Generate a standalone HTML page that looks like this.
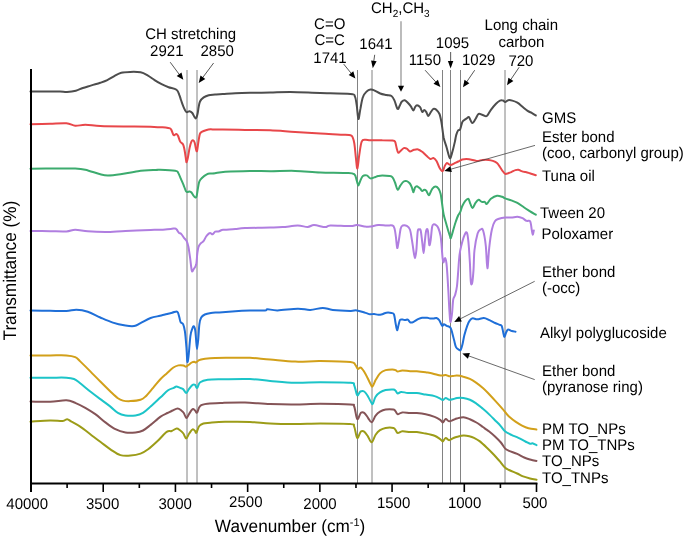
<!DOCTYPE html>
<html><head><meta charset="utf-8"><style>
html,body{margin:0;padding:0;background:#fff;}
body{width:685px;height:538px;overflow:hidden;font-family:"Liberation Sans",sans-serif;}
svg{display:block;will-change:transform;text-rendering:geometricPrecision;}
</style></head><body><svg width="685" height="538" viewBox="0 0 685 538" font-family="'Liberation Sans', sans-serif" fill="#000"><line x1="187.00" y1="70" x2="187.00" y2="483" stroke="#828282" stroke-width="1.0"/><line x1="197.00" y1="70" x2="197.00" y2="483" stroke="#828282" stroke-width="1.0"/><line x1="357.50" y1="70" x2="357.50" y2="483" stroke="#828282" stroke-width="1.0"/><line x1="372.00" y1="70" x2="372.00" y2="483" stroke="#828282" stroke-width="1.0"/><line x1="442.50" y1="70" x2="442.50" y2="483" stroke="#828282" stroke-width="1.0"/><line x1="450.50" y1="70" x2="450.50" y2="483" stroke="#828282" stroke-width="1.0"/><line x1="460.50" y1="70" x2="460.50" y2="483" stroke="#828282" stroke-width="1.0"/><line x1="505.00" y1="70" x2="505.00" y2="483" stroke="#828282" stroke-width="1.0"/><path d="M30.5,91.4 C33.8,91.4 45.1,91.6 50.0,91.6 C54.9,91.6 57.2,91.5 60.0,91.5 C62.8,91.5 64.4,92.0 67.0,91.9 C69.6,91.8 73.2,91.4 75.8,90.7 C78.4,90.0 80.2,88.9 82.8,88.0 C85.4,87.1 88.6,86.3 91.5,85.4 C94.4,84.5 97.7,83.7 100.3,82.8 C102.9,81.9 105.0,81.2 107.3,80.1 C109.6,79.0 112.0,77.3 114.3,76.1 C116.6,74.9 118.7,73.5 121.3,72.8 C123.9,72.1 126.9,72.0 130.1,71.9 C133.3,71.8 137.7,71.7 140.6,72.3 C143.5,72.9 145.3,74.1 147.6,75.4 C149.9,76.7 152.3,78.6 154.6,80.1 C156.9,81.6 159.3,83.0 161.6,84.2 C163.9,85.4 166.1,86.3 168.6,87.2 C171.1,88.1 174.7,88.5 176.5,89.8 C178.3,91.1 178.7,93.5 179.4,95.2 C180.2,96.9 180.3,98.1 181.0,100.0 C181.7,101.9 182.6,104.8 183.5,106.8 C184.4,108.8 185.3,111.3 186.3,112.0 C187.3,112.7 188.6,111.0 189.6,111.2 C190.6,111.4 191.3,111.8 192.3,113.0 C193.3,114.2 194.6,118.2 195.4,118.4 C196.2,118.7 196.9,116.3 197.4,114.5 C197.9,112.7 198.2,109.5 198.6,107.3 C199.0,105.1 199.2,103.2 200.0,101.5 C200.8,99.8 202.2,98.5 203.7,97.4 C205.1,96.4 206.8,95.7 208.7,95.2 C210.6,94.7 212.7,94.8 215.0,94.6 C217.3,94.4 219.3,94.2 222.7,94.0 C226.1,93.8 230.8,93.4 235.3,93.2 C239.9,93.0 244.2,92.9 250.0,92.8 C255.8,92.7 263.4,92.8 270.1,92.6 C276.8,92.4 281.8,91.9 290.2,91.9 C298.6,92.0 310.3,92.6 320.3,92.9 C330.3,93.2 344.6,93.3 350.4,93.9 C356.2,94.5 353.8,94.5 354.9,96.4 C355.9,98.3 356.1,101.4 356.7,105.2 C357.3,109.0 357.8,118.4 358.4,119.0 C359.0,119.6 359.6,112.6 360.4,108.9 C361.1,105.2 361.8,100.0 362.9,97.1 C363.9,94.2 365.4,92.7 366.7,91.4 C368.0,90.2 369.2,89.8 370.5,89.6 C371.8,89.4 372.6,89.6 374.2,90.3 C375.8,91.0 378.2,92.7 380.2,93.5 C382.2,94.3 384.5,94.6 386.4,95.0 C388.3,95.4 390.1,95.0 391.5,96.0 C392.9,97.0 393.5,98.5 394.5,100.7 C395.5,102.9 396.7,108.1 397.6,108.9 C398.5,109.8 399.0,107.0 399.7,105.8 C400.4,104.6 400.8,102.6 401.7,101.7 C402.6,100.8 403.8,100.1 404.8,100.3 C405.8,100.5 406.8,101.7 407.8,102.7 C408.8,103.7 410.0,105.1 410.9,106.4 C411.8,107.7 412.7,110.4 413.4,110.5 C414.1,110.6 414.4,108.1 415.0,107.2 C415.6,106.3 416.1,105.2 417.0,105.2 C417.9,105.2 419.2,106.1 420.1,107.2 C421.0,108.3 421.5,111.5 422.2,111.9 C422.9,112.4 423.5,109.9 424.2,109.9 C424.9,109.9 425.5,110.9 426.2,111.9 C426.9,112.9 427.6,115.8 428.3,116.0 C429.0,116.2 429.5,114.2 430.3,113.0 C431.1,111.8 432.4,109.4 433.4,108.9 C434.4,108.4 435.5,109.1 436.5,109.9 C437.5,110.8 438.6,111.8 439.5,114.0 C440.4,116.2 440.9,119.3 441.6,123.2 C442.3,127.1 442.8,133.4 443.6,137.5 C444.5,141.6 445.7,144.3 446.7,147.7 C447.7,151.1 448.9,157.0 449.8,158.0 C450.7,159.0 451.0,156.6 451.8,153.9 C452.6,151.2 454.2,144.7 454.9,141.6 C455.6,138.5 455.6,137.3 456.1,135.4 C456.7,133.5 457.5,131.3 458.2,130.3 C458.9,129.3 459.5,130.6 460.2,129.2 C460.9,127.8 461.6,123.6 462.3,122.1 C463.0,120.6 463.6,120.6 464.3,120.0 C465.0,119.4 465.6,119.1 466.3,118.6 C467.1,118.1 468.1,116.8 468.8,117.0 C469.5,117.2 469.8,119.0 470.4,120.0 C471.0,121.0 471.6,123.3 472.5,123.1 C473.4,122.9 474.5,120.5 475.5,119.0 C476.5,117.5 477.4,114.6 478.6,113.9 C479.8,113.2 481.3,114.6 482.7,114.9 C484.1,115.2 485.4,116.8 486.8,116.0 C488.2,115.2 489.4,111.8 490.9,109.8 C492.4,107.8 494.5,105.2 496.0,103.7 C497.5,102.2 498.8,101.1 500.0,100.6 C501.2,100.1 502.2,100.3 503.1,100.6 C504.0,100.8 504.4,102.2 505.2,102.1 C506.0,102.0 507.0,100.5 508.2,100.2 C509.4,100.0 510.8,100.2 512.3,100.6 C513.8,101.0 515.7,101.7 517.4,102.7 C519.1,103.7 520.8,105.4 522.5,106.8 C524.2,108.2 526.1,109.9 527.6,110.9 C529.1,111.9 530.3,112.2 531.7,112.9 C533.1,113.7 535.1,115.0 535.8,115.4" fill="none" stroke="#4d4d4d" stroke-width="2" stroke-linejoin="round" stroke-linecap="round"/><path d="M30.5,124.3 C33.8,124.2 44.0,124.0 50.0,123.8 C56.0,123.6 62.2,123.0 66.4,123.3 C70.6,123.6 72.1,125.5 75.2,125.8 C78.3,126.0 81.1,124.8 85.3,124.8 C89.5,124.8 93.6,125.7 100.3,126.0 C107.0,126.3 117.1,126.4 125.5,126.5 C133.9,126.6 144.8,126.7 150.6,126.8 C156.3,126.9 157.5,127.2 160.0,127.3 C162.5,127.4 163.9,127.3 165.6,127.5 C167.3,127.7 169.0,128.0 170.0,128.4 C171.0,128.8 170.9,129.1 171.5,130.2 C172.1,131.3 172.8,134.1 173.4,134.9 C174.0,135.7 174.3,135.1 174.8,134.9 C175.3,134.7 175.7,133.8 176.2,133.9 C176.7,134.1 177.3,134.5 178.0,135.8 C178.7,137.1 179.5,140.4 180.3,141.8 C181.2,143.2 182.4,143.2 183.1,144.5 C183.8,145.8 184.0,147.3 184.5,149.7 C185.0,152.1 185.6,156.9 185.9,159.0 C186.2,161.1 186.3,162.5 186.6,162.3 C186.9,162.2 187.3,160.5 187.8,158.1 C188.3,155.7 189.0,150.7 189.6,147.9 C190.2,145.1 190.9,142.7 191.5,141.4 C192.1,140.2 192.8,140.2 193.3,140.4 C193.8,140.6 194.2,141.2 194.7,142.8 C195.2,144.4 195.7,148.4 196.1,149.7 C196.5,151.0 196.7,152.1 197.1,150.7 C197.5,149.3 198.0,144.2 198.5,141.4 C199.0,138.6 199.3,135.5 199.9,133.9 C200.5,132.3 201.2,132.2 202.2,131.6 C203.2,131.0 204.5,130.6 205.9,130.2 C207.3,129.8 209.0,129.4 210.5,129.3 C212.0,129.2 213.0,129.6 215.0,129.6 C217.0,129.6 217.7,129.3 222.7,129.4 C227.7,129.5 237.1,129.8 245.0,130.0 C252.9,130.2 261.7,130.0 270.1,130.3 C278.5,130.6 286.8,131.5 295.2,132.0 C303.6,132.5 311.9,133.0 320.3,133.5 C328.7,134.0 340.2,134.4 345.4,134.8 C350.6,135.2 350.1,134.5 351.6,135.8 C353.1,137.1 353.5,139.1 354.2,142.8 C354.9,146.5 355.4,153.6 355.9,157.9 C356.4,162.2 356.8,168.8 357.4,168.4 C357.9,168.0 358.5,159.9 359.2,155.4 C359.9,150.9 360.6,144.2 361.7,141.6 C362.8,139.0 364.0,140.0 365.5,139.8 C367.0,139.6 367.7,140.2 370.5,140.3 C373.3,140.4 378.6,140.1 382.3,140.2 C386.0,140.2 390.4,140.4 392.5,140.6 C394.6,140.8 394.3,140.4 395.0,141.6 C395.7,142.8 396.1,145.8 396.6,147.7 C397.1,149.6 397.5,152.3 398.2,152.8 C398.9,153.3 399.8,151.6 400.7,150.8 C401.6,150.0 402.7,148.4 403.7,148.1 C404.7,147.8 405.8,148.1 406.8,148.7 C407.8,149.2 408.7,151.2 409.9,151.4 C411.1,151.6 412.6,150.1 414.0,149.8 C415.4,149.5 416.7,149.1 418.1,149.4 C419.5,149.7 420.9,150.8 422.2,151.8 C423.5,152.8 424.8,154.3 426.2,155.5 C427.6,156.7 429.1,158.6 430.3,159.0 C431.5,159.4 432.4,157.7 433.4,158.0 C434.4,158.3 435.5,159.4 436.5,161.0 C437.5,162.6 438.5,166.1 439.5,167.8 C440.5,169.5 441.7,171.5 442.6,171.2 C443.5,170.9 444.0,167.4 444.7,166.1 C445.4,164.8 446.0,163.4 446.7,163.1 C447.4,162.8 448.0,163.8 448.7,164.1 C449.4,164.4 449.9,165.2 450.8,165.1 C451.7,165.0 452.7,164.3 453.9,163.7 C455.1,163.1 456.8,162.2 458.2,161.5 C459.6,160.8 460.9,159.9 462.3,159.5 C463.7,159.1 465.0,158.9 466.3,158.9 C467.6,158.9 468.7,159.2 470.4,159.5 C472.1,159.8 474.6,160.8 476.6,160.9 C478.7,161.0 480.7,160.1 482.7,159.9 C484.7,159.7 487.1,159.7 488.8,159.9 C490.5,160.1 491.5,160.4 492.9,160.9 C494.3,161.4 495.8,162.0 497.0,163.0 C498.2,164.0 499.1,165.7 500.0,167.0 C500.9,168.3 501.8,170.0 502.7,171.1 C503.6,172.2 504.3,173.5 505.2,173.8 C506.1,174.2 507.2,173.5 508.2,173.2 C509.2,172.9 510.1,172.6 511.3,172.1 C512.5,171.6 514.2,170.5 515.4,170.1 C516.6,169.7 517.4,169.5 518.4,169.7 C519.4,169.9 520.3,170.7 521.5,171.1 C522.7,171.5 524.2,171.8 525.6,172.1 C527.0,172.4 528.0,172.7 529.7,173.2 C531.4,173.7 534.8,174.9 535.8,175.2" fill="none" stroke="#e8474a" stroke-width="2" stroke-linejoin="round" stroke-linecap="round"/><path d="M30.5,168.7 C33.8,168.7 42.5,168.6 50.0,168.6 C57.5,168.6 69.3,168.3 75.2,168.5 C81.1,168.7 81.1,168.7 85.3,169.7 C89.5,170.7 96.5,173.3 100.3,174.3 C104.1,175.3 104.6,175.5 107.9,175.5 C111.2,175.5 115.4,175.0 120.4,174.3 C125.4,173.6 132.1,171.9 138.0,171.2 C143.9,170.5 151.9,170.2 155.6,170.0 C159.3,169.8 156.7,169.6 160.0,169.7 C163.3,169.8 172.2,170.2 175.2,170.7 C178.2,171.2 177.1,171.2 178.0,172.5 C178.9,173.8 179.9,176.5 180.8,178.6 C181.7,180.7 182.8,183.0 183.6,185.1 C184.4,187.2 185.3,189.9 185.9,191.1 C186.5,192.3 186.7,192.0 187.3,192.1 C187.9,192.2 188.9,191.3 189.6,191.4 C190.3,191.5 190.9,191.8 191.5,192.5 C192.1,193.2 192.7,194.5 193.3,195.3 C193.9,196.1 194.6,197.2 195.2,197.4 C195.8,197.6 196.1,197.8 196.6,196.2 C197.1,194.6 197.5,190.4 198.0,187.9 C198.5,185.4 198.7,183.1 199.4,181.4 C200.1,179.7 201.0,178.9 202.2,177.7 C203.4,176.5 205.4,175.1 206.8,174.4 C208.2,173.7 209.1,173.7 210.5,173.5 C211.9,173.3 212.6,173.5 215.0,173.2 C217.4,172.9 219.4,172.2 225.2,171.8 C231.0,171.4 242.5,171.0 250.0,170.9 C257.5,170.8 262.6,171.2 270.1,171.2 C277.6,171.2 286.8,170.7 295.2,170.9 C303.6,171.1 311.9,172.1 320.3,172.4 C328.7,172.7 339.8,172.6 345.4,172.9 C351.0,173.2 352.3,172.9 354.2,174.2 C356.1,175.5 356.0,178.6 356.7,180.5 C357.4,182.4 357.8,185.5 358.4,185.5 C359.0,185.5 359.6,182.1 360.4,180.5 C361.1,178.9 361.8,176.8 362.9,175.9 C363.9,175.1 365.4,175.0 366.7,175.4 C368.0,175.8 369.2,178.1 370.5,178.4 C371.8,178.7 372.9,177.8 374.2,177.4 C375.5,177.0 376.8,176.3 378.2,176.0 C379.6,175.7 380.4,175.5 382.3,175.5 C384.2,175.5 387.7,175.7 389.4,176.0 C391.1,176.3 391.6,176.3 392.5,177.4 C393.4,178.5 394.1,180.4 395.0,182.5 C395.9,184.6 396.7,189.2 397.6,189.7 C398.5,190.2 399.3,187.0 400.3,185.6 C401.3,184.2 402.6,182.2 403.7,181.5 C404.8,180.8 405.8,180.8 406.8,181.1 C407.8,181.4 409.0,182.4 409.9,183.5 C410.8,184.6 411.3,186.1 411.9,187.6 C412.5,189.1 412.9,192.3 413.4,192.3 C413.9,192.3 414.4,188.6 415.0,187.6 C415.6,186.6 416.1,186.0 417.0,186.2 C417.9,186.4 419.2,187.8 420.1,188.6 C421.0,189.4 421.5,190.9 422.2,191.1 C422.9,191.3 423.5,189.8 424.2,189.7 C424.9,189.6 425.4,189.8 426.2,190.7 C426.9,191.6 428.0,194.9 428.7,195.2 C429.4,195.5 429.7,193.8 430.3,192.7 C430.9,191.6 431.5,189.6 432.4,188.6 C433.3,187.6 434.5,186.6 435.5,186.6 C436.5,186.6 437.6,187.4 438.5,188.6 C439.4,189.8 440.0,191.3 440.6,193.7 C441.2,196.1 441.5,199.6 442.0,203.0 C442.5,206.4 442.8,210.4 443.6,214.2 C444.4,217.9 445.7,221.9 446.7,225.5 C447.7,229.1 449.1,233.6 449.8,235.7 C450.5,237.8 450.3,238.8 450.8,238.1 C451.3,237.4 452.0,234.2 452.8,231.6 C453.6,229.0 454.6,225.2 455.5,222.5 C456.4,219.8 457.4,216.9 458.2,215.2 C459.0,213.5 459.5,213.6 460.2,212.1 C460.9,210.6 461.4,207.9 462.3,206.0 C463.2,204.1 464.3,202.1 465.3,200.9 C466.3,199.7 467.5,198.3 468.4,198.8 C469.2,199.3 469.7,202.4 470.4,203.9 C471.1,205.4 471.6,208.2 472.5,208.0 C473.4,207.8 474.5,204.3 475.5,202.9 C476.5,201.5 477.6,200.0 478.6,199.8 C479.6,199.6 480.7,201.6 481.7,201.9 C482.7,202.2 483.8,201.6 484.7,201.9 C485.6,202.2 485.8,204.4 486.8,203.9 C487.8,203.4 489.2,200.2 490.9,198.8 C492.6,197.5 495.1,196.1 497.0,195.8 C498.9,195.5 500.7,196.4 502.1,196.8 C503.5,197.2 503.7,197.8 505.2,198.4 C506.7,199.0 509.3,199.7 511.3,200.4 C513.3,201.2 515.4,201.8 517.4,202.9 C519.4,204.0 521.5,205.6 523.5,207.0 C525.5,208.4 527.7,209.8 529.7,211.1 C531.8,212.4 534.8,214.1 535.8,214.7" fill="none" stroke="#3cab6e" stroke-width="2" stroke-linejoin="round" stroke-linecap="round"/><path d="M30.5,230.9 C33.8,230.9 44.1,231.1 50.1,231.2 C56.1,231.3 62.2,231.7 66.4,231.4 C70.6,231.2 71.6,229.7 75.2,229.7 C78.8,229.7 82.8,230.8 87.8,231.2 C92.8,231.6 99.1,231.9 105.4,231.9 C111.7,231.9 118.0,231.2 125.5,230.9 C133.0,230.6 144.8,230.1 150.6,229.9 C156.3,229.7 156.7,230.0 160.0,229.8 C163.3,229.6 168.2,229.1 170.7,228.9 C173.2,228.7 174.0,228.3 175.0,228.4 C176.0,228.5 176.0,228.8 176.7,229.5 C177.3,230.2 178.2,232.1 178.9,232.8 C179.7,233.5 180.3,233.1 181.2,233.9 C182.0,234.7 183.1,236.6 184.0,237.8 C184.9,239.0 186.0,239.7 186.7,241.2 C187.4,242.7 187.8,244.0 188.4,246.8 C189.0,249.6 189.5,253.9 190.1,257.9 C190.7,261.9 191.2,268.8 191.8,270.7 C192.4,272.6 192.7,270.6 193.4,269.6 C194.1,268.6 195.5,267.3 196.2,264.6 C196.8,261.9 196.9,256.5 197.3,253.5 C197.7,250.5 197.9,248.5 198.5,246.8 C199.1,245.1 199.9,244.3 200.7,243.4 C201.5,242.5 202.6,242.4 203.5,241.2 C204.4,240.0 205.4,237.5 206.3,236.2 C207.2,234.9 208.4,233.9 209.1,233.4 C209.8,232.9 210.1,233.0 210.7,233.2 C211.3,233.3 211.9,234.6 212.7,234.3 C213.4,234.1 214.2,232.2 215.2,231.7 C216.2,231.2 217.4,231.8 218.5,231.5 C219.6,231.2 220.8,230.3 221.9,230.0 C223.0,229.7 222.8,230.0 225.0,229.8 C227.2,229.6 232.0,229.3 235.3,229.0 C238.6,228.7 239.2,228.3 245.0,228.1 C250.8,227.9 263.8,227.8 270.1,227.6 C276.4,227.4 278.0,227.4 282.6,227.1 C287.2,226.8 293.5,225.6 297.7,225.6 C301.9,225.6 305.0,227.0 307.7,226.9 C310.4,226.8 311.1,225.1 314.0,225.1 C316.9,225.1 322.6,227.0 325.3,227.1 C328.0,227.2 326.1,225.6 330.3,225.4 C334.5,225.2 346.0,226.2 350.4,226.1 C354.8,226.0 354.2,225.0 356.7,225.1 C359.2,225.2 363.2,226.3 365.5,226.6 C367.8,226.8 368.4,226.9 370.5,226.6 C372.6,226.3 375.6,225.2 378.2,225.0 C380.8,224.8 384.0,225.4 386.4,225.5 C388.8,225.6 391.1,225.0 392.5,225.5 C393.9,226.0 393.9,226.5 394.5,228.5 C395.1,230.5 395.6,234.4 396.0,237.7 C396.4,240.9 396.8,247.3 397.2,248.0 C397.6,248.7 398.0,245.1 398.6,241.8 C399.2,238.6 400.0,231.2 400.7,228.5 C401.4,225.8 401.7,225.9 402.7,225.5 C403.7,225.1 405.6,225.2 406.8,225.9 C408.0,226.6 409.0,227.2 409.9,229.5 C410.8,231.8 411.3,236.4 411.9,239.8 C412.5,243.2 412.9,246.9 413.4,250.0 C413.9,253.1 414.5,258.2 415.0,258.2 C415.5,258.2 415.9,254.4 416.4,250.0 C416.8,245.6 417.2,235.0 417.7,231.6 C418.1,228.2 418.6,229.7 419.1,229.5 C419.6,229.3 420.2,228.5 420.7,230.6 C421.2,232.7 421.7,238.1 422.2,241.8 C422.7,245.6 423.2,253.1 423.6,253.1 C424.0,253.1 424.4,245.6 424.8,241.8 C425.2,238.1 425.7,232.5 426.2,230.6 C426.7,228.7 427.4,228.2 427.9,230.6 C428.4,233.0 428.8,243.4 429.3,244.9 C429.8,246.4 430.2,242.7 430.7,239.8 C431.1,236.9 431.6,230.1 432.0,227.5 C432.4,224.9 432.6,224.7 433.4,224.4 C434.1,224.1 435.6,224.8 436.5,225.5 C437.4,226.2 437.8,226.8 438.5,228.5 C439.2,230.2 440.1,233.1 440.6,236.0 C441.1,238.9 441.3,242.2 441.6,245.9 C441.9,249.6 442.3,255.4 442.6,258.2 C442.9,261.0 443.1,262.5 443.5,262.5 C443.9,262.5 444.5,257.9 445.0,258.0 C445.5,258.1 446.0,260.0 446.4,262.8 C446.8,265.6 447.1,270.4 447.4,274.9 C447.7,279.4 447.9,283.8 448.3,290.0 C448.7,296.2 449.1,306.7 449.5,312.0 C449.9,317.3 450.0,321.6 450.4,322.0 C450.8,322.4 451.4,318.3 451.9,314.6 C452.4,310.9 452.7,303.0 453.2,299.7 C453.7,296.4 454.5,297.3 455.1,295.0 C455.7,292.7 456.5,290.2 457.0,286.0 C457.5,281.8 457.9,275.2 458.3,270.0 C458.7,264.8 459.0,259.0 459.5,255.0 C460.0,251.0 460.4,249.2 461.2,246.0 C462.0,242.8 463.4,237.8 464.3,235.6 C465.2,233.3 466.1,231.5 466.8,232.5 C467.5,233.5 467.9,236.6 468.4,241.7 C468.9,246.8 469.5,256.0 469.9,262.8 C470.3,269.6 470.5,279.3 470.9,282.5 C471.3,285.7 471.9,284.3 472.3,282.2 C472.7,280.1 473.1,275.5 473.5,270.1 C473.9,264.7 473.8,256.1 474.5,250.0 C475.2,243.9 476.6,236.9 477.6,233.5 C478.6,230.1 479.7,230.0 480.6,229.5 C481.5,229.0 482.2,227.8 483.1,230.5 C484.0,233.2 485.1,239.5 485.8,245.8 C486.5,252.1 486.8,267.9 487.4,268.3 C488.0,268.7 488.4,254.5 489.2,248.0 C489.9,241.5 490.9,233.9 491.9,229.5 C492.8,225.1 493.7,223.1 494.9,221.3 C496.1,219.5 497.3,219.4 499.0,218.8 C500.7,218.2 503.1,217.8 505.2,217.6 C507.2,217.4 509.3,217.7 511.3,217.6 C513.3,217.5 515.5,216.7 517.4,216.8 C519.3,216.9 521.0,217.5 522.5,218.2 C524.0,218.9 525.3,220.4 526.6,220.9 C527.9,221.4 529.2,219.9 530.1,221.3 C531.0,222.7 531.3,227.3 531.7,229.5 C532.1,231.7 532.4,234.4 532.7,234.6 C533.1,234.8 533.6,231.2 533.8,230.5" fill="none" stroke="#b07ee0" stroke-width="2" stroke-linejoin="round" stroke-linecap="round"/><path d="M30.5,310.5 C33.8,310.6 44.1,310.7 50.1,310.8 C56.1,310.9 62.0,311.2 66.4,311.0 C70.8,310.8 72.9,309.7 76.5,309.8 C80.1,309.9 83.8,310.5 87.8,311.8 C91.8,313.1 96.1,315.7 100.3,317.5 C104.5,319.3 108.7,321.2 112.9,322.6 C117.1,324.0 122.0,325.0 125.5,325.6 C129.1,326.2 131.7,326.5 134.2,326.1 C136.7,325.7 137.8,324.5 140.5,323.1 C143.2,321.8 147.3,319.2 150.6,318.0 C153.8,316.8 157.6,316.4 160.0,315.8 C162.4,315.2 163.0,315.0 165.0,314.5 C167.0,314.0 170.3,313.2 172.2,312.7 C174.1,312.2 175.5,311.5 176.5,311.5 C177.5,311.5 177.5,311.6 178.0,312.7 C178.5,313.8 179.1,316.5 179.5,318.1 C179.9,319.7 180.1,321.3 180.7,322.3 C181.3,323.3 182.4,322.6 183.1,324.1 C183.8,325.6 184.3,327.4 184.9,331.4 C185.5,335.4 186.1,343.3 186.5,348.3 C186.9,353.3 187.0,360.2 187.3,361.6 C187.6,363.0 188.0,360.9 188.5,356.7 C189.0,352.5 189.8,340.8 190.4,336.2 C191.0,331.6 191.6,330.6 192.2,329.0 C192.8,327.4 193.2,326.1 193.7,326.3 C194.2,326.5 194.8,327.9 195.2,330.2 C195.6,332.4 195.8,336.7 196.1,339.8 C196.4,342.9 196.7,348.9 197.0,348.9 C197.3,348.9 197.8,343.9 198.2,339.8 C198.6,335.7 198.9,327.8 199.4,324.1 C199.9,320.4 200.3,319.1 201.2,317.5 C202.1,315.9 203.2,315.2 204.8,314.5 C206.4,313.8 208.5,313.4 210.9,313.0 C213.3,312.6 215.2,312.7 219.3,312.4 C223.4,312.1 230.2,311.6 235.3,311.3 C240.4,311.0 245.0,310.8 250.0,310.6 C255.0,310.5 262.2,310.6 265.1,310.4 C268.0,310.2 265.5,309.2 267.6,309.2 C269.7,309.2 272.6,310.5 277.6,310.4 C282.6,310.3 292.3,308.8 297.7,308.7 C303.1,308.6 306.0,310.0 310.2,309.9 C314.4,309.8 319.0,307.9 322.8,307.9 C326.6,307.9 328.2,309.4 332.8,309.9 C337.4,310.4 346.4,310.8 350.4,310.9 C354.4,311.0 354.2,310.1 356.7,310.4 C359.2,310.7 363.3,312.3 365.5,312.9 C367.7,313.5 368.6,314.0 370.0,314.2 C371.4,314.4 372.7,313.9 374.1,314.0 C375.5,314.1 376.8,314.8 378.2,314.8 C379.6,314.8 380.9,314.6 382.3,314.2 C383.7,313.8 384.9,312.9 386.4,312.7 C387.9,312.5 390.2,312.7 391.5,313.0 C392.8,313.3 393.3,312.9 394.0,314.5 C394.7,316.1 395.0,320.1 395.5,322.7 C396.0,325.3 396.6,329.9 397.1,330.2 C397.6,330.5 398.1,326.4 398.6,324.7 C399.1,323.0 399.4,320.6 400.1,319.8 C400.8,319.0 401.8,319.6 402.7,319.6 C403.6,319.7 404.4,320.1 405.3,320.1 C406.2,320.1 407.0,319.2 407.8,319.6 C408.6,320.0 409.4,322.1 410.4,322.5 C411.4,322.9 412.6,322.3 413.9,321.7 C415.2,321.1 416.6,319.8 418.0,319.1 C419.4,318.5 420.6,318.0 422.1,317.8 C423.6,317.6 425.9,317.7 427.2,317.8 C428.5,317.9 429.0,318.3 430.0,318.4 C431.0,318.5 432.3,318.7 433.4,318.6 C434.5,318.5 435.5,317.7 436.5,318.0 C437.5,318.3 438.4,318.9 439.3,320.2 C440.2,321.5 441.3,325.1 442.1,325.8 C442.9,326.5 443.1,324.3 443.9,324.3 C444.7,324.3 445.6,325.2 446.7,325.8 C447.8,326.4 449.5,326.4 450.4,327.6 C451.3,328.8 451.7,331.0 452.3,333.2 C452.9,335.4 453.6,338.3 454.2,340.6 C454.8,342.9 455.2,345.6 456.0,347.1 C456.8,348.6 458.0,349.1 458.8,349.6 C459.6,350.1 460.1,350.8 460.7,349.9 C461.3,349.0 461.9,346.8 462.5,344.3 C463.1,341.8 463.6,338.2 464.4,335.1 C465.2,332.0 466.3,328.3 467.2,325.8 C468.1,323.3 469.1,321.4 470.0,320.2 C470.9,318.9 471.6,318.4 472.8,318.3 C474.0,318.2 475.5,319.4 477.4,319.3 C479.2,319.2 481.9,317.9 483.9,318.0 C485.9,318.1 487.6,319.4 489.5,320.2 C491.4,321.0 493.4,322.2 495.1,323.0 C496.8,323.8 498.6,324.3 499.7,324.8 C500.8,325.3 501.1,324.7 501.6,325.8 C502.2,326.9 502.6,329.5 503.0,331.3 C503.4,333.1 503.8,336.7 504.3,336.9 C504.8,337.1 505.6,333.5 506.2,332.3 C506.8,331.1 507.2,329.7 508.1,329.5 C509.0,329.3 510.6,330.6 511.8,331.0 C513.0,331.4 514.9,331.6 515.5,331.7" fill="none" stroke="#1f6fd8" stroke-width="2" stroke-linejoin="round" stroke-linecap="round"/><path d="M30.5,355.6 C33.8,355.6 44.1,355.4 50.1,355.4 C56.1,355.4 62.2,355.1 66.4,355.4 C70.6,355.7 72.9,356.1 75.2,357.1 C77.5,358.1 77.7,359.0 80.2,361.4 C82.7,363.8 87.0,368.0 90.3,371.4 C93.6,374.8 96.9,378.1 100.3,381.5 C103.7,384.9 107.5,388.7 110.4,391.5 C113.3,394.3 115.8,396.8 117.9,398.3 C120.0,399.8 120.8,400.1 122.9,400.6 C125.0,401.1 127.6,401.2 130.5,401.1 C133.4,401.0 138.0,400.6 140.5,399.8 C143.0,399.0 143.4,398.5 145.5,396.5 C147.6,394.5 150.6,390.7 153.1,387.8 C155.6,384.9 158.3,381.4 160.6,379.0 C162.9,376.6 164.6,375.3 166.7,373.4 C168.8,371.5 171.4,368.8 173.4,367.5 C175.4,366.2 176.7,365.8 178.4,365.4 C180.1,365.0 182.2,365.2 183.4,365.4 C184.7,365.6 185.1,366.8 185.9,366.7 C186.7,366.6 187.4,365.7 188.4,365.0 C189.4,364.3 190.7,363.1 191.7,362.5 C192.7,361.9 193.6,361.7 194.3,361.7 C195.0,361.7 195.4,362.6 195.9,362.5 C196.4,362.4 196.9,361.8 197.6,361.3 C198.3,360.8 198.8,360.1 200.1,359.7 C201.3,359.3 202.6,359.0 205.1,358.7 C207.6,358.4 210.1,358.1 215.1,358.0 C220.1,357.9 229.5,357.8 235.3,357.8 C241.1,357.8 244.2,357.5 250.0,357.8 C255.8,358.1 262.6,359.0 270.1,359.6 C277.6,360.2 286.8,361.4 295.2,361.6 C303.6,361.9 311.1,361.0 320.3,361.1 C329.5,361.2 344.5,361.4 350.4,362.1 C356.2,362.8 354.1,364.0 355.4,365.1 C356.6,366.2 357.0,368.5 357.9,368.9 C358.8,369.3 359.6,366.8 360.9,367.6 C362.2,368.4 363.9,371.2 365.5,373.9 C367.1,376.6 369.3,381.9 370.5,384.0 C371.7,386.1 371.6,387.1 372.5,386.5 C373.4,385.9 374.4,382.3 375.6,380.1 C376.9,377.9 378.3,375.1 380.0,373.4 C381.7,371.7 383.6,370.8 385.6,370.1 C387.7,369.4 390.6,369.4 392.3,369.4 C394.0,369.4 394.7,369.7 395.6,370.1 C396.5,370.5 396.7,371.5 397.8,371.6 C398.9,371.7 400.2,370.6 402.3,370.5 C404.4,370.4 407.7,371.1 410.1,371.2 C412.5,371.3 414.2,371.0 416.8,371.2 C419.4,371.4 423.1,371.9 425.7,372.3 C428.3,372.7 430.2,372.9 432.4,373.4 C434.6,373.9 437.4,374.8 439.1,375.2 C440.8,375.6 441.3,375.6 442.4,375.6 C443.5,375.6 444.6,374.9 445.7,375.0 C446.8,375.1 448.0,376.1 449.1,376.3 C450.2,376.5 451.1,376.2 452.4,376.1 C453.7,376.0 455.1,375.5 456.9,375.6 C458.7,375.7 461.2,376.1 463.4,376.7 C465.6,377.2 467.7,377.9 469.9,378.9 C472.1,379.9 474.2,381.3 476.4,382.8 C478.6,384.3 480.7,386.1 482.9,388.0 C485.1,389.9 487.2,392.2 489.4,394.5 C491.6,396.8 493.8,399.2 496.0,401.6 C498.2,404.0 500.9,407.0 502.5,408.8 C504.1,410.6 504.4,411.2 505.5,412.5 C506.6,413.8 507.3,415.0 509.0,416.5 C510.7,418.0 513.3,420.2 515.5,421.7 C517.7,423.2 519.8,424.5 522.0,425.6 C524.2,426.7 526.1,427.6 528.5,428.2 C530.9,428.8 535.1,429.3 536.4,429.5" fill="none" stroke="#d2a01a" stroke-width="2" stroke-linejoin="round" stroke-linecap="round"/><path d="M30.5,377.7 C33.8,377.7 44.1,377.7 50.1,377.7 C56.1,377.7 62.4,377.5 66.4,377.7 C70.4,377.9 71.7,378.1 74.0,379.0 C76.3,379.9 77.5,381.1 80.2,383.2 C82.9,385.3 87.0,388.9 90.3,391.5 C93.6,394.1 96.9,396.6 100.3,399.1 C103.7,401.6 107.5,404.3 110.4,406.6 C113.3,408.9 115.4,411.4 117.9,412.9 C120.4,414.4 122.6,415.0 125.5,415.4 C128.4,415.8 132.6,415.8 135.5,415.4 C138.4,415.0 140.5,414.4 143.0,412.9 C145.5,411.4 147.7,409.2 150.6,406.6 C153.5,404.0 157.7,400.0 160.6,397.3 C163.5,394.6 165.9,391.9 168.1,390.3 C170.3,388.7 172.4,388.5 173.8,387.9 C175.2,387.3 175.2,386.6 176.3,386.6 C177.4,386.6 179.0,387.5 180.1,387.9 C181.2,388.3 182.1,388.3 183.1,389.1 C184.1,389.9 185.3,392.9 186.3,392.9 C187.3,392.9 187.9,390.4 188.9,389.1 C189.9,387.8 191.6,385.6 192.6,384.9 C193.6,384.2 194.3,384.4 195.1,384.9 C195.8,385.4 196.2,388.3 197.1,387.9 C197.9,387.5 198.4,383.6 200.2,382.3 C202.0,381.0 203.9,380.3 207.7,379.8 C211.4,379.3 215.6,379.4 222.7,379.3 C229.8,379.2 242.1,378.8 250.0,379.1 C257.9,379.4 262.6,380.3 270.1,380.9 C277.6,381.5 286.8,382.5 295.2,382.7 C303.6,382.9 311.1,382.2 320.3,382.2 C329.5,382.2 344.8,382.2 350.4,382.7 C356.0,383.2 353.1,383.1 354.2,385.2 C355.3,387.3 356.2,394.1 357.2,395.2 C358.2,396.2 359.2,392.1 360.4,391.5 C361.6,390.9 362.9,390.7 364.2,391.5 C365.5,392.3 366.8,394.5 368.0,396.5 C369.2,398.5 370.9,402.1 371.7,403.3 C372.5,404.5 372.4,404.6 373.0,403.5 C373.6,402.4 374.4,398.7 375.6,396.8 C376.8,394.9 378.3,393.5 380.0,392.4 C381.7,391.3 383.4,390.6 385.6,390.1 C387.8,389.6 391.7,389.4 393.4,389.5 C395.1,389.6 394.9,390.1 395.6,390.8 C396.3,391.5 396.9,393.3 397.8,393.5 C398.7,393.7 399.5,392.0 401.2,391.9 C402.9,391.8 405.3,392.8 407.9,393.0 C410.5,393.2 413.8,392.7 416.8,393.0 C419.8,393.3 422.7,394.1 425.7,394.6 C428.7,395.1 432.2,395.4 434.6,396.1 C437.0,396.8 438.8,397.9 440.2,398.6 C441.6,399.3 441.9,400.2 442.8,400.1 C443.7,400.0 444.6,398.0 445.7,397.9 C446.8,397.8 447.8,399.5 449.1,399.7 C450.4,399.9 452.2,399.3 453.5,399.0 C454.8,398.7 455.2,398.2 456.9,398.0 C458.5,397.8 461.2,397.7 463.4,398.0 C465.6,398.3 467.7,398.8 469.9,399.7 C472.1,400.6 474.2,402.1 476.4,403.6 C478.6,405.1 480.7,407.0 482.9,408.8 C485.1,410.6 487.2,412.5 489.4,414.6 C491.6,416.7 494.1,419.3 496.0,421.2 C497.9,423.1 499.0,424.1 500.5,425.8 C502.0,427.5 503.2,429.7 505.0,431.2 C506.8,432.7 509.2,433.8 511.4,434.9 C513.6,436.0 516.1,436.7 518.4,437.8 C520.7,438.9 523.4,440.5 525.4,441.5 C527.4,442.5 528.9,443.5 530.1,443.8 C531.3,444.1 531.3,443.1 532.4,443.3 C533.5,443.5 535.8,444.8 536.5,445.1" fill="none" stroke="#1cc4c8" stroke-width="2" stroke-linejoin="round" stroke-linecap="round"/><path d="M30.5,401.6 C33.8,401.6 44.1,402.0 50.1,401.8 C56.1,401.6 62.2,400.1 66.4,400.3 C70.6,400.5 72.1,401.6 75.2,402.8 C78.3,404.1 82.0,405.9 85.3,407.8 C88.6,409.7 91.9,411.7 95.3,414.1 C98.7,416.5 102.1,419.9 105.4,422.4 C108.8,424.9 112.1,427.5 115.4,429.2 C118.8,430.9 122.2,431.9 125.5,432.5 C128.8,433.1 132.6,432.8 135.5,432.5 C138.4,432.2 140.5,431.8 143.0,430.5 C145.5,429.2 147.7,427.2 150.6,424.9 C153.5,422.6 157.8,418.6 160.6,416.6 C163.4,414.6 165.5,414.0 167.5,413.0 C169.5,412.0 170.8,411.3 172.5,410.5 C174.2,409.7 176.1,408.4 177.6,408.4 C179.1,408.4 180.3,409.7 181.3,410.5 C182.3,411.3 183.0,411.8 183.8,413.0 C184.6,414.2 185.5,417.8 186.3,418.0 C187.2,418.2 187.9,415.7 188.9,414.2 C189.9,412.7 191.6,409.8 192.6,409.2 C193.6,408.6 194.3,409.9 195.1,410.5 C195.8,411.1 196.2,413.3 197.1,412.5 C197.9,411.7 198.4,407.4 200.2,405.9 C202.0,404.4 203.9,404.2 207.7,403.7 C211.4,403.2 216.5,403.1 222.7,402.9 C228.9,402.7 237.1,402.4 245.0,402.6 C252.9,402.8 261.7,403.8 270.1,404.1 C278.5,404.4 286.8,404.6 295.2,404.5 C303.6,404.4 311.1,403.8 320.3,403.8 C329.5,403.8 344.8,404.1 350.4,404.5 C356.0,404.9 353.1,404.1 354.2,406.5 C355.3,408.9 356.1,418.1 357.2,419.1 C358.3,420.2 359.7,413.9 360.9,412.8 C362.1,411.8 363.0,412.0 364.2,412.8 C365.4,413.6 366.8,416.2 368.0,417.8 C369.2,419.4 370.4,422.7 371.7,422.3 C373.0,421.9 374.2,417.5 375.6,415.7 C377.0,413.9 378.3,412.7 380.0,411.7 C381.7,410.7 383.4,409.9 385.6,409.5 C387.8,409.1 391.7,409.2 393.4,409.5 C395.1,409.8 394.9,410.5 395.6,411.3 C396.3,412.1 396.7,414.0 397.8,414.2 C398.9,414.4 400.2,412.6 402.3,412.4 C404.4,412.2 407.7,413.0 410.1,413.1 C412.5,413.2 414.2,412.9 416.8,413.1 C419.4,413.3 422.7,413.6 425.7,414.2 C428.7,414.8 432.2,416.0 434.6,416.9 C437.0,417.8 438.8,418.9 440.2,419.8 C441.6,420.7 441.9,422.5 442.8,422.4 C443.7,422.3 444.6,419.3 445.7,419.1 C446.8,418.9 447.8,421.2 449.1,421.3 C450.4,421.4 452.2,420.3 453.5,419.8 C454.8,419.3 455.2,418.9 456.9,418.5 C458.5,418.1 461.2,417.1 463.4,417.2 C465.6,417.3 467.7,418.3 469.9,419.2 C472.1,420.1 474.2,421.2 476.4,422.5 C478.6,423.8 481.2,425.8 482.9,427.0 C484.6,428.2 485.4,428.9 486.5,429.6 C487.6,430.4 487.8,430.4 489.2,431.5 C490.6,432.6 493.1,434.7 495.0,436.5 C496.9,438.3 499.2,440.5 500.9,442.5 C502.6,444.5 503.6,447.0 505.0,448.4 C506.4,449.8 507.0,449.9 509.0,450.8 C511.0,451.7 514.7,452.8 517.2,453.9 C519.7,455.0 522.1,456.6 524.2,457.5 C526.4,458.4 528.1,458.9 530.1,459.5 C532.1,460.1 535.4,460.7 536.5,460.9" fill="none" stroke="#855457" stroke-width="2" stroke-linejoin="round" stroke-linecap="round"/><path d="M30.5,421.7 C33.8,421.5 44.7,420.5 50.1,420.4 C55.5,420.3 59.9,421.1 62.7,420.9 C65.5,420.7 65.7,419.1 67.2,419.2 C68.7,419.3 69.3,420.4 71.5,421.7 C73.7,422.9 77.1,424.6 80.2,426.7 C83.3,428.8 87.0,431.7 90.3,434.2 C93.6,436.7 96.9,439.3 100.3,441.8 C103.7,444.3 107.1,447.1 110.4,449.3 C113.8,451.5 117.1,454.1 120.4,455.1 C123.8,456.2 127.2,455.9 130.5,455.6 C133.8,455.4 137.6,454.7 140.5,453.6 C143.4,452.6 145.2,451.5 148.1,449.3 C151.0,447.1 155.0,443.4 158.1,440.5 C161.2,437.6 164.4,433.5 166.7,431.9 C169.0,430.3 170.0,431.6 171.7,431.0 C173.4,430.4 175.3,428.6 176.7,428.5 C178.1,428.4 178.9,429.4 180.0,430.2 C181.1,431.0 182.4,432.1 183.4,433.5 C184.4,434.9 185.2,438.5 186.2,438.5 C187.2,438.5 188.1,435.0 189.2,433.5 C190.3,432.0 191.6,429.8 192.6,429.4 C193.6,429.0 194.5,430.4 195.1,431.0 C195.7,431.6 195.7,433.5 196.4,432.7 C197.1,431.9 198.1,427.5 199.3,426.0 C200.5,424.5 201.6,424.1 203.4,423.5 C205.2,422.9 206.5,423.0 210.1,422.7 C213.7,422.4 218.3,421.9 225.0,421.8 C231.7,421.7 242.5,421.6 250.0,421.9 C257.5,422.2 262.6,423.2 270.1,423.6 C277.6,424.0 286.8,424.1 295.2,424.1 C303.6,424.1 311.1,423.6 320.3,423.6 C329.5,423.6 344.8,423.6 350.4,424.1 C356.0,424.6 353.1,424.3 354.2,426.6 C355.3,428.9 356.1,437.1 357.2,437.9 C358.3,438.7 359.7,432.7 360.9,431.6 C362.1,430.6 363.0,430.8 364.2,431.6 C365.4,432.4 366.8,434.8 368.0,436.6 C369.2,438.4 370.4,442.5 371.7,442.2 C373.0,441.9 374.2,436.7 375.6,434.7 C377.0,432.7 378.3,431.3 380.0,430.2 C381.7,429.1 383.4,428.4 385.6,428.0 C387.8,427.6 391.7,427.6 393.4,428.0 C395.1,428.4 394.9,429.3 395.6,430.2 C396.3,431.1 396.7,432.9 397.8,433.1 C398.9,433.3 400.2,431.5 402.3,431.3 C404.4,431.1 407.7,431.9 410.1,432.0 C412.5,432.1 414.2,431.7 416.8,432.0 C419.4,432.3 422.7,433.0 425.7,433.6 C428.7,434.2 432.2,434.9 434.6,435.8 C437.0,436.7 438.8,438.2 440.2,439.1 C441.6,440.0 441.9,441.6 442.8,441.4 C443.7,441.2 444.6,438.2 445.7,438.0 C446.8,437.8 447.8,440.2 449.1,440.2 C450.4,440.2 452.1,438.6 453.5,438.0 C454.9,437.4 455.6,437.1 457.3,436.7 C459.0,436.3 461.5,435.6 463.5,435.5 C465.5,435.4 467.6,435.8 469.3,436.2 C471.1,436.6 472.2,436.9 474.0,437.8 C475.8,438.7 477.8,439.7 479.9,441.4 C482.0,443.1 484.6,445.6 486.9,447.8 C489.2,450.0 491.8,452.6 493.9,454.8 C496.0,457.0 497.9,459.2 499.7,461.2 C501.4,463.2 502.8,465.5 504.4,467.0 C505.9,468.5 506.9,468.9 509.0,470.0 C511.1,471.1 514.9,472.4 517.2,473.5 C519.6,474.6 521.0,475.6 523.1,476.4 C525.2,477.2 527.9,477.9 530.1,478.5 C532.3,479.1 535.4,479.5 536.5,479.7" fill="none" stroke="#9c9c18" stroke-width="2" stroke-linejoin="round" stroke-linecap="round"/><line x1="31" y1="69" x2="31" y2="492" stroke="#000" stroke-width="2"/><line x1="30" y1="483.6" x2="537.4" y2="483.6" stroke="#000" stroke-width="2"/><line x1="67.11" y1="483" x2="67.11" y2="488" stroke="#000" stroke-width="1.6"/><line x1="103.22" y1="483" x2="103.22" y2="492" stroke="#000" stroke-width="1.6"/><line x1="139.32" y1="483" x2="139.32" y2="488" stroke="#000" stroke-width="1.6"/><line x1="175.43" y1="483" x2="175.43" y2="492" stroke="#000" stroke-width="1.6"/><line x1="211.54" y1="483" x2="211.54" y2="488" stroke="#000" stroke-width="1.6"/><line x1="247.65" y1="483" x2="247.65" y2="492" stroke="#000" stroke-width="1.6"/><line x1="283.75" y1="483" x2="283.75" y2="488" stroke="#000" stroke-width="1.6"/><line x1="319.86" y1="483" x2="319.86" y2="492" stroke="#000" stroke-width="1.6"/><line x1="355.97" y1="483" x2="355.97" y2="488" stroke="#000" stroke-width="1.6"/><line x1="392.07" y1="483" x2="392.07" y2="492" stroke="#000" stroke-width="1.6"/><line x1="428.18" y1="483" x2="428.18" y2="488" stroke="#000" stroke-width="1.6"/><line x1="464.29" y1="483" x2="464.29" y2="492" stroke="#000" stroke-width="1.6"/><line x1="500.40" y1="483" x2="500.40" y2="488" stroke="#000" stroke-width="1.6"/><line x1="536.50" y1="483" x2="536.50" y2="492" stroke="#000" stroke-width="1.6"/><line x1="170.2" y1="62.2" x2="179.7" y2="75.0" stroke="#444" stroke-width="0.9"/><polygon points="183.3,79.8 176.7,76.0 181.5,72.4" fill="#000"/><line x1="213.6" y1="63.0" x2="202.3" y2="78.1" stroke="#444" stroke-width="0.9"/><polygon points="198.7,82.9 200.5,75.5 205.3,79.1" fill="#000"/><line x1="343.7" y1="64.1" x2="351.6" y2="73.8" stroke="#444" stroke-width="0.9"/><polygon points="355.4,78.5 348.7,75.0 353.3,71.2" fill="#000"/><line x1="374.7" y1="54.8" x2="373.7" y2="61.8" stroke="#444" stroke-width="0.9"/><polygon points="372.8,68.2 371.1,60.4 376.6,61.2" fill="#000"/><line x1="401.0" y1="21.2" x2="401.0" y2="86.7" stroke="#b0b0b0" stroke-width="1.7"/><polygon points="401.0,91.7 397.9,85.7 404.1,85.7" fill="#000"/><line x1="425.1" y1="70.2" x2="436.4" y2="82.6" stroke="#444" stroke-width="0.9"/><polygon points="440.4,87.0 433.5,83.8 437.9,79.8" fill="#000"/><line x1="450.6" y1="52.0" x2="450.6" y2="62.1" stroke="#666" stroke-width="1.1"/><polygon points="450.6,68.6 447.9,61.1 453.3,61.1" fill="#000"/><line x1="474.7" y1="70.2" x2="466.4" y2="82.3" stroke="#444" stroke-width="0.9"/><polygon points="463.0,87.3 464.5,79.8 469.4,83.2" fill="#000"/><line x1="519.2" y1="67.2" x2="510.4" y2="80.2" stroke="#444" stroke-width="0.9"/><polygon points="507.0,85.2 508.4,77.7 513.4,81.1" fill="#000"/><line x1="535.0" y1="145.4" x2="450.1" y2="169.4" stroke="#444" stroke-width="0.8"/><polygon points="444.3,171.0 450.2,166.2 451.9,172.0" fill="#000"/><line x1="534.7" y1="281.3" x2="459.6" y2="319.2" stroke="#444" stroke-width="0.8"/><polygon points="454.2,321.9 459.1,316.1 461.8,321.4" fill="#000"/><line x1="534.7" y1="379.6" x2="467.9" y2="355.6" stroke="#444" stroke-width="0.8"/><polygon points="462.3,353.6 469.9,353.1 467.9,358.8" fill="#000"/><g fill="#000"><text transform="translate(190.7,39.4) scale(1,1.03)" font-size="15" text-anchor="middle">CH stretching</text><text transform="translate(166.8,55.9) scale(1,1.03)" font-size="15" text-anchor="middle">2921</text><text transform="translate(217.2,55.9) scale(1,1.03)" font-size="15" text-anchor="middle">2850</text><text transform="translate(329.7,28.8) scale(1,1.03)" font-size="15" text-anchor="middle">C=O</text><text transform="translate(329.7,45.1) scale(1,1.03)" font-size="15" text-anchor="middle">C=C</text><text transform="translate(330,63.2) scale(1,1.03)" font-size="15" text-anchor="middle">1741</text><text transform="translate(376,48.9) scale(1,1.03)" font-size="15" text-anchor="middle">1641</text><text transform="translate(371,12.6) scale(1,1.03)" font-size="15">CH<tspan font-size="10" dy="3.8">2</tspan><tspan dy="-3.8">,CH</tspan><tspan font-size="10" dy="3.8">3</tspan></text><text transform="translate(452.5,47.9) scale(1,1.03)" font-size="15" text-anchor="middle">1095</text><text transform="translate(424.9,64.5) scale(1,1.03)" font-size="15" text-anchor="middle">1150</text><text transform="translate(478.7,64.5) scale(1,1.03)" font-size="15" text-anchor="middle">1029</text><text transform="translate(521.3,29.7) scale(1,1.03)" font-size="15" text-anchor="middle">Long chain</text><text transform="translate(521.4,47.4) scale(1,1.03)" font-size="15" text-anchor="middle">carbon</text><text transform="translate(520.9,66) scale(1,1.03)" font-size="15" text-anchor="middle">720</text><text transform="translate(542,122.5) scale(1,1.03)" font-size="15" text-anchor="start">GMS</text><text transform="translate(542,142) scale(1,1.03)" font-size="15" text-anchor="start">Ester bond</text><text transform="translate(542,158.2) scale(1,1.03)" font-size="15" text-anchor="start">(coo, carbonyl group)</text><text transform="translate(542,180.6) scale(1,1.03)" font-size="15" text-anchor="start">Tuna oil</text><text transform="translate(540,217.5) scale(1,1.03)" font-size="15" text-anchor="start">Tween 20</text><text transform="translate(541.5,239) scale(1,1.03)" font-size="15" text-anchor="start">Poloxamer</text><text transform="translate(542,277.3) scale(1,1.03)" font-size="15" text-anchor="start">Ether bond</text><text transform="translate(542,292.9) scale(1,1.03)" font-size="15" text-anchor="start">(-occ)</text><text transform="translate(540,337.6) scale(1,1.03)" font-size="15" text-anchor="start">Alkyl polyglucoside</text><text transform="translate(542,376) scale(1,1.03)" font-size="15" text-anchor="start">Ether bond</text><text transform="translate(542,391.6) scale(1,1.03)" font-size="15" text-anchor="start">(pyranose ring)</text><text transform="translate(542,434.1) scale(1,1.03)" font-size="15" text-anchor="start">PM TO_NPs</text><text transform="translate(542,450.2) scale(1,1.03)" font-size="15" text-anchor="start">PM TO_TNPs</text><text transform="translate(542,465.8) scale(1,1.03)" font-size="15" text-anchor="start">TO_NPs</text><text transform="translate(542,482.8) scale(1,1.03)" font-size="15" text-anchor="start">TO_TNPs</text><text transform="translate(27.2,508.8) scale(1,1.03)" font-size="15" text-anchor="middle">40000</text><text transform="translate(102.6,508.7) scale(1,1.03)" font-size="15" text-anchor="middle">3500</text><text transform="translate(175.2,508.7) scale(1,1.03)" font-size="15" text-anchor="middle">3000</text><text transform="translate(245.8,506.9) scale(1,1.03)" font-size="15" text-anchor="middle">2500</text><text transform="translate(320,508.7) scale(1,1.03)" font-size="15" text-anchor="middle">2000</text><text transform="translate(393.6,508.3) scale(1,1.03)" font-size="15" text-anchor="middle">1500</text><text transform="translate(464.6,508.3) scale(1,1.03)" font-size="15" text-anchor="middle">1000</text><text transform="translate(534.9,508.3) scale(1,1.03)" font-size="15" text-anchor="middle">500</text><text transform="translate(290.1,532.1) scale(1,1.03)" font-size="17.2" text-anchor="middle">Wavenumber (cm<tspan font-size="11" dy="-6">-1</tspan><tspan dy="6">)</tspan></text><text transform="translate(15.9,270.6) rotate(-90) scale(1,1.06)" font-size="17.2" text-anchor="middle">Transmittance (%)</text></g></svg></body></html>
